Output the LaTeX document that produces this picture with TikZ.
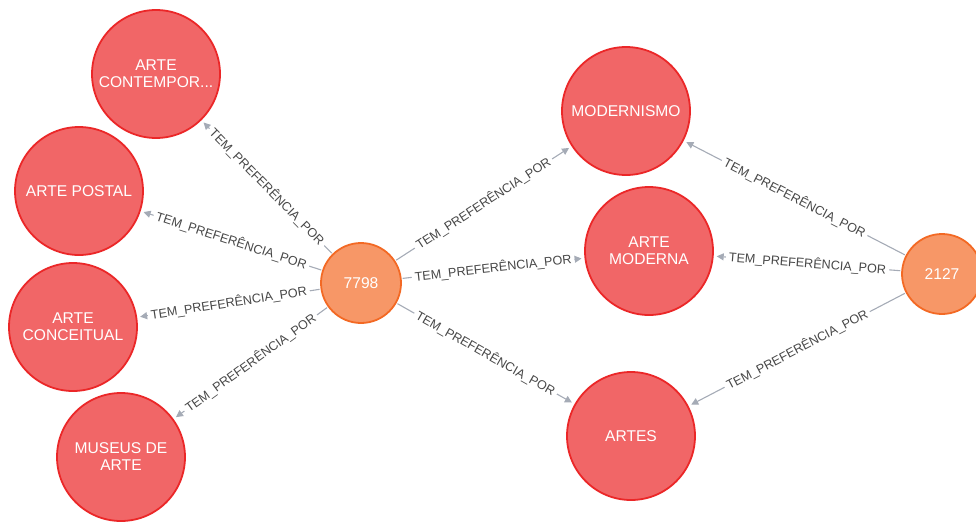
\documentclass[tikz,border=0pt]{standalone}
\usepackage{fontspec}
\setmainfont{Liberation Sans}
\usetikzlibrary{arrows.meta}
\definecolor{catfill}{HTML}{F16667}
\definecolor{catline}{HTML}{EB2728}
\definecolor{userfill}{HTML}{F79767}
\definecolor{userline}{HTML}{F36924}
\definecolor{edgegray}{HTML}{A5ABB6}
\definecolor{labelgray}{HTML}{474747}

\begin{document}
\begin{tikzpicture}[x=1pt,y=-1pt,
  category/.style={circle, fill=catfill, draw=catline, line width=1.8pt,
    minimum size=128pt, inner sep=0pt, text=white,
    font=\fontsize{15.6}{17}\selectfont, align=center},
  user/.style={circle, fill=userfill, draw=userline, line width=1.8pt,
    minimum size=80pt, inner sep=0pt, text=white,
    font=\fontsize{15.6}{17}\selectfont},
  rel/.style={draw=edgegray, line width=1.1pt,
    -{Triangle[length=7pt,width=7pt]}, shorten >=3pt, shorten <=1pt},
  rellabel/.style={midway, sloped, fill=white, inner sep=3pt,
    text=labelgray, font=\fontsize{12.6}{12.6}\selectfont}
]
\useasboundingbox (0,0) rectangle (976,522);
\clip (0,0) rectangle (976,522);

% category nodes
\node[category] (contemp)    at (156,74)  {ARTE\\CONTEMPOR...};
\node[category] (postal)     at (79,191)  {ARTE POSTAL};
\node[category] (conceitual) at (73,327)  {ARTE\\CONCEITUAL};
\node[category] (museus)     at (121,457) {MUSEUS DE\\ARTE};
\node[category] (modernismo) at (626,111) {MODERNISMO};
\node[category] (moderna)    at (649,251) {ARTE\\MODERNA};
\node[category] (artes)      at (631,436) {ARTES};

% user nodes
\node[user] (u7798) at (361,283) {7798};
\node[user] (u2127) at (942,274) {2127};

% relationships
\foreach \target in {contemp,postal,conceitual,museus,modernismo,moderna,artes}
  \draw[rel] (u7798) -- node[rellabel] {TEM\_PREFERÊNCIA\_POR} (\target);
\foreach \target in {modernismo,moderna,artes}
  \draw[rel] (u2127) -- node[rellabel] {TEM\_PREFERÊNCIA\_POR} (\target);
\end{tikzpicture}
\end{document}
